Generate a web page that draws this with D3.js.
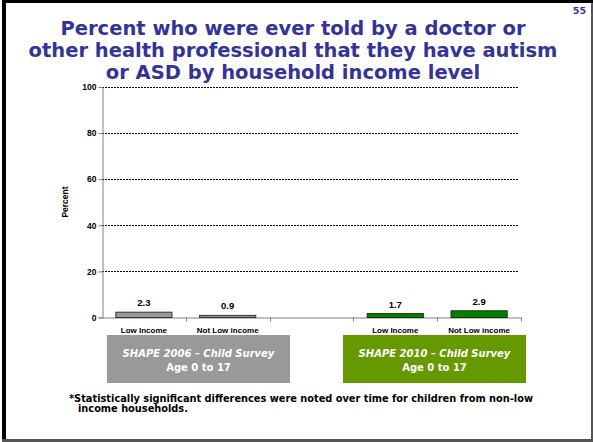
<!DOCTYPE html>
<html>
<head>
<meta charset="utf-8">
<script src="https://cdn.jsdelivr.net/npm/d3@7"></script>
<style>
  html, body { margin: 0; padding: 0; background: #fff; }
  svg { display: block; }
</style>
</head>
<body>
<svg id="chart" width="593" height="442"></svg>
<script>
// Survey groups, income levels and values (percent)
const surveys = ["SHAPE 2006 \u2013 Child Survey", "SHAPE 2010 \u2013 Child Survey"];
const surveyAges = ["Age 0 to 17", "Age 0 to 17"];
const incomeLevels = ["Low Income", "Not Low income"];
const values2006 = [2.3, 0.9];
const values2010 = [1.7, 2.9];
const yTicks = [0, 20, 40, 60, 80, 100];
const titleLines = [
  "Percent who were ever told by a doctor or",
  "other health professional that they have autism",
  "or ASD by household income level"
];
const footnoteLines = [
  "*Statistically significant differences were noted over time for children from non-low",
  "income households."
];
const pageNumber = "55";

const barFill = ["#999999", "#008000"];
const barStroke = ["#333333", "#1a3300"];
const boxFill = ["#999999", "#669900"];

// Slots along the x axis: 2006 bars, an empty gap slot, 2010 bars
const rows = [
  { key: "a0", survey: 0, label: incomeLevels[0], value: values2006[0] },
  { key: "a1", survey: 0, label: incomeLevels[1], value: values2006[1] },
  { key: "gap", survey: -1, label: "", value: null },
  { key: "b0", survey: 1, label: incomeLevels[0], value: values2010[0] },
  { key: "b1", survey: 1, label: incomeLevels[1], value: values2010[1] }
];

const svg = d3.select("#chart");

// Slide frame
svg.append("rect").attr("x", 0).attr("y", 0).attr("width", 593).attr("height", 442).attr("fill", "#fff");
svg.append("rect").attr("x", 2).attr("y", 0).attr("width", 591).attr("height", 3).attr("fill", "#000");
svg.append("rect").attr("x", 2).attr("y", 0).attr("width", 4).attr("height", 442).attr("fill", "#000");
svg.append("rect").attr("x", 591).attr("y", 3).attr("width", 2).attr("height", 439).attr("fill", "#555");
svg.append("rect").attr("x", 2).attr("y", 439).attr("width", 591).attr("height", 3).attr("fill", "#555");

// Page number
svg.append("text")
  .attr("x", 586).attr("y", 14)
  .attr("text-anchor", "end")
  .attr("font-family", "DejaVu Sans, Verdana, sans-serif")
  .attr("font-weight", "bold").attr("font-size", 9.5)
  .attr("fill", "#333399")
  .text(pageNumber);

// Title
const title = svg.append("text")
  .attr("text-anchor", "middle")
  .attr("font-family", "DejaVu Sans, Verdana, sans-serif")
  .attr("font-weight", "bold").attr("font-size", 19.5)
  .attr("fill", "#333399");
titleLines.forEach((t, i) => {
  title.append("tspan").attr("x", 293).attr("y", 35 + i * 22).text(t);
});

// Scales
const x = d3.scaleBand()
  .domain(rows.map(d => d.key))
  .range([102, 521])
  .paddingInner(0.33)
  .paddingOuter(0.165);
const y = d3.scaleLinear().domain([0, 100]).range([317.5, 87]);

// Gridlines
svg.append("g")
  .selectAll("line")
  .data(yTicks.filter(t => t > 0))
  .join("line")
  .attr("x1", 102).attr("x2", 519)
  .attr("y1", d => Math.round(y(d)) + 0.5).attr("y2", d => Math.round(y(d)) + 0.5)
  .attr("stroke", "#000").attr("stroke-width", 1)
  .attr("stroke-dasharray", "2,1");

// Y axis
const yAxis = svg.append("g")
  .attr("transform", "translate(102.5,0)")
  .call(d3.axisLeft(y).tickValues(yTicks).tickSize(4).tickPadding(2));
yAxis.select(".domain").attr("stroke", "#808080");
yAxis.selectAll(".tick line").attr("stroke", "#808080");
yAxis.selectAll(".tick text")
  .attr("font-family", "Liberation Sans, Arial, sans-serif")
  .attr("font-weight", "bold").attr("font-size", 8.5)
  .attr("fill", "#000");

// X baseline with category boundary ticks
const step = x.step();
const boundaries = d3.range(rows.length + 1).map(i => x.range()[0] + i * step);
svg.append("line")
  .attr("x1", 102).attr("x2", 521)
  .attr("y1", y(0) + 0.5).attr("y2", y(0) + 0.5)
  .attr("stroke", "#808080");
svg.append("g").selectAll("line")
  .data(boundaries.slice(1))
  .join("line")
  .attr("x1", d => Math.round(d) + 0.5).attr("x2", d => Math.round(d) + 0.5)
  .attr("y1", y(0)).attr("y2", y(0) + 4)
  .attr("stroke", "#808080");

// Y axis title
svg.append("text")
  .attr("transform", "translate(68,202) rotate(-90)")
  .attr("text-anchor", "middle")
  .attr("font-family", "Liberation Sans, Arial, sans-serif")
  .attr("font-weight", "bold").attr("font-size", 8.5)
  .text("Percent");

const barRows = rows.filter(d => d.value !== null);

// Bars
svg.append("g").selectAll("rect")
  .data(barRows)
  .join("rect")
  .attr("x", d => x(d.key))
  .attr("y", d => y(d.value))
  .attr("width", x.bandwidth())
  .attr("height", d => y(0) - y(d.value))
  .attr("fill", d => barFill[d.survey])
  .attr("stroke", d => barStroke[d.survey])
  .attr("stroke-width", 1);

// Value labels
svg.append("g").selectAll("text")
  .data(barRows)
  .join("text")
  .attr("x", d => x(d.key) + x.bandwidth() / 2)
  .attr("y", d => y(d.value) - 6)
  .attr("text-anchor", "middle")
  .attr("font-family", "Liberation Sans, Arial, sans-serif")
  .attr("font-weight", "bold").attr("font-size", 9.5)
  .text(d => d.value.toFixed(1));

// Category labels
svg.append("g").selectAll("text")
  .data(barRows)
  .join("text")
  .attr("x", d => x(d.key) + x.bandwidth() / 2)
  .attr("y", 333)
  .attr("text-anchor", "middle")
  .attr("font-family", "Liberation Sans, Arial, sans-serif")
  .attr("font-weight", "bold").attr("font-size", 8)
  .text(d => d.label);

// Survey boxes under each group
const boxes = [
  { x0: 107, x1: 290 },
  { x0: 343, x1: 526 }
];
boxes.forEach((b, i) => {
  svg.append("rect")
    .attr("x", b.x0).attr("y", 335)
    .attr("width", b.x1 - b.x0).attr("height", 48)
    .attr("fill", boxFill[i]);
  const cx = (b.x0 + b.x1) / 2;
  svg.append("text")
    .attr("x", cx).attr("y", 357)
    .attr("text-anchor", "middle")
    .attr("font-family", "DejaVu Sans, Verdana, sans-serif")
    .attr("font-weight", "bold").attr("font-style", "italic")
    .attr("font-size", 10).attr("fill", "#fff")
    .text(surveys[i]);
  svg.append("text")
    .attr("x", cx).attr("y", 371)
    .attr("text-anchor", "middle")
    .attr("font-family", "DejaVu Sans, Verdana, sans-serif")
    .attr("font-weight", "bold")
    .attr("font-size", 10).attr("fill", "#fff")
    .text(surveyAges[i]);
});

// Footnote
const foot = svg.append("text")
  .attr("font-family", "DejaVu Sans, Verdana, sans-serif")
  .attr("font-weight", "bold").attr("font-size", 9.8)
  .attr("fill", "#000");
foot.append("tspan").attr("x", 69).attr("y", 402).text(footnoteLines[0]);
foot.append("tspan").attr("x", 78).attr("y", 412).text(footnoteLines[1]);
</script>
</body>
</html>
